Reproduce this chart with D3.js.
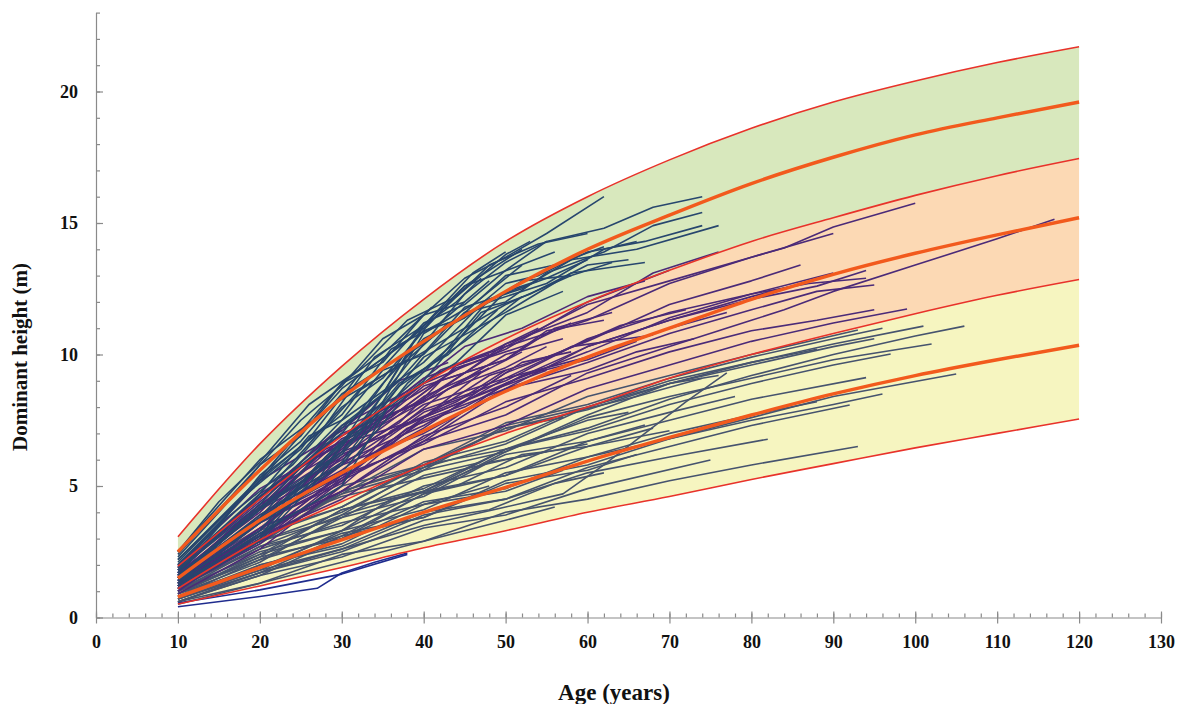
<!DOCTYPE html>
<html>
<head>
<meta charset="utf-8">
<script src="https://cdn.jsdelivr.net/npm/d3@7"></script>
<style>
  body { margin: 0; background: #fff; }
  svg { display: block; }
</style>
</head>
<body>
<script>
// chart size
var width = 1177;
var height = 704;

// ages where the site curves were read
var curveAges = [10, 20, 30, 40, 50, 60, 70, 80, 90, 100, 110, 120];

// class limits (thin red) and class centres (thick orange), top to bottom
var topLimit    = [3.07, 6.6, 9.55, 12.1, 14.3, 16.0, 17.4, 18.6, 19.6, 20.4, 21.1, 21.7];
var centreHigh  = [2.5, 5.6, 8.35, 10.5, 12.4, 14.0, 15.3, 16.5, 17.5, 18.35, 19.0, 19.6];
var limitHigh   = [1.95, 4.5, 6.9, 8.9, 10.6, 12.0, 13.2, 14.3, 15.2, 16.05, 16.8, 17.45];
var centreMid   = [1.5, 3.7, 5.5, 7.1, 8.6, 9.9, 11.0, 12.1, 13.05, 13.85, 14.55, 15.2];
var limitLow    = [1.1, 2.95, 4.4, 5.8, 7.0, 8.0, 9.1, 10.0, 10.8, 11.55, 12.25, 12.85];
var centreLow   = [0.78, 1.9, 2.95, 4.0, 4.95, 5.95, 6.85, 7.7, 8.5, 9.2, 9.8, 10.35];
var bottomLimit = [0.51, 1.2, 1.9, 2.65, 3.3, 4.0, 4.6, 5.25, 5.85, 6.45, 7.0, 7.55];

// observed stands, flat lists of age, height
var highStands = [
  [10,2.3, 15,4.0, 20,5.8, 25,7.5, 30,8.8, 35,10.6, 40,11.5, 45,12.9, 50,13.7, 55,14.6, 62,16.0],
  [10,2.0, 15,3.5, 20,5.4, 25,6.7, 30,8.5, 35,9.5, 40,11.2, 45,11.9, 50,13.2, 55,14.3, 62,14.8, 68,15.6, 74,16.0],
  [10,1.9, 20,4.7, 26,6.9, 30,7.5, 35,9.4, 40,10.0, 45,11.6, 50,12.0, 55,13.1, 62,13.9, 68,14.9, 74,15.4],
  [10,1.7, 20,4.6, 30,7.0, 35,8.9, 40,10.6, 45,11.4, 50,12.7, 54,13.0, 60,13.9, 67,14.3, 74,14.9],
  [10,1.6, 20,3.8, 30,7.2, 37,9.0, 45,11.8, 52,12.5, 58,13.6, 66,14.0, 76,14.9],
  [10,1.5, 20,4.1, 30,6.2, 40,9.9, 50,11.6, 58,13.1, 67,13.5],
  [10,2.2, 20,5.2, 30,8.7, 40,11.0, 48,13.4, 54,14.2, 60,14.6],
  [10,1.4, 20,3.8, 30,5.8, 38,8.9, 44,10.5, 50,12.4, 54,12.8],
  [10,2.5, 15,4.4, 20,5.9, 26,8.1, 32,9.4, 38,11.3, 44,12.2, 50,13.8, 53,14.3],
  [10,1.3, 20,3.1, 28,6.1, 35,8.2, 40,10.8, 46,11.9, 52,13.4],
  [10,2.1, 20,5.3, 30,7.7, 36,10.2, 42,11.2, 48,12.8],
  [10,1.6, 20,4.1, 30,7.3, 35,8.5, 40,11.1, 44,12.0, 47,12.9],
  [10,1.8, 18,4.6, 25,6.4, 32,9.2, 38,10.5, 45,12.6, 51,13.3, 56,13.9],
  [10,1.2, 20,3.2, 30,5.0, 36,8.2, 42,9.9, 48,12.1, 55,12.9, 60,13.6],
  [10,2.4, 20,5.8, 25,6.9, 30,8.9, 35,9.7, 40,11.5, 45,12.0],
  [10,1.9, 20,4.5, 30,8.0, 35,9.1, 40,10.9, 45,11.4, 52,12.8, 58,13.0, 63,13.5],
  [10,1.5, 20,3.6, 30,6.6, 40,9.0, 47,11.6, 53,12.3, 60,13.4, 65,13.6],
  [10,1.7, 16,3.8, 24,5.8, 32,8.6, 38,9.8, 43,11.2],
  [10,2.0, 20,5.2, 28,7.3, 34,9.9, 40,11.1, 46,13.1, 50,13.9],
  [10,1.4, 20,3.3, 27,5.8, 33,7.5, 38,10.0, 44,11.3, 50,13.0, 56,13.4, 62,14.1],
  [10,1.6, 20,4.2, 30,6.3, 37,8.9, 43,10.0, 49,11.7],
  [10,2.2, 20,5.3, 30,8.9, 36,10.3, 41,11.8],
  [10,1.3, 20,3.6, 30,5.5, 38,8.5, 44,9.7, 50,11.5, 57,12.4],
  [10,1.8, 20,4.3, 30,7.5, 40,9.7, 47,11.9, 55,12.7, 62,14.0, 66,14.3],
  [10,1.5, 20,3.9, 30,5.9, 37,8.8, 45,10.5, 52,12.2],
  [10,1.2, 20,3.0, 30,6.5, 40,10.4, 45,12.3, 50,13.5, 55,14.3],
  [10,2.5, 20,6.0, 30,8.3, 40,10.1, 50,11.9, 58,13.0],
  [10,1.1, 20,2.9, 27,5.2, 33,8.0, 39,10.6, 45,12.6, 52,14.0]
];

var midStands = [
  [10,1.2, 20,3.4, 30,4.8, 40,6.7, 50,7.7, 60,9.3, 70,10.3, 80,11.3, 84,11.7, 90,12.4, 100,13.4, 110,14.4, 117,15.14],
  [10,1.6, 20,4.1, 30,6.8, 40,8.3, 50,10.3, 60,11.3, 70,12.7, 80,13.7, 84,14.05, 90,14.85, 100,15.75],
  [10,1.7, 20,4.7, 30,6.7, 40,9.1, 50,10.3, 60,11.9, 70,12.8, 80,13.7, 90,14.6],
  [10,1.5, 20,3.8, 30,6.5, 40,8.2, 50,10.4, 60,11.6, 68,13.1, 76,13.9],
  [10,1.3, 20,3.7, 30,5.3, 40,7.5, 50,8.7, 60,10.3, 70,11.3, 80,12.1, 88,12.6, 94,13.19],
  [10,1.1, 20,2.9, 30,5.3, 40,6.7, 50,8.7, 60,9.7, 70,10.8, 80,11.7, 88,12.4, 95,12.64],
  [10,1.5, 20,4.1, 30,5.8, 40,7.9, 50,9.0, 60,10.6, 70,11.6, 80,12.3, 87,12.7, 94,12.9],
  [10,1.2, 20,3.1, 30,5.4, 40,6.6, 50,8.2, 60,9.1, 70,10.1, 80,10.9, 88,11.3, 95,11.7],
  [10,1.0, 20,3.1, 30,4.5, 40,6.4, 50,7.3, 60,8.7, 70,9.6, 80,10.5, 90,11.2, 99,11.73],
  [10,1.3, 20,3.4, 30,5.8, 40,7.0, 50,8.7, 60,9.4, 66,10.1, 73,10.6],
  [10,1.6, 20,4.3, 30,6.0, 40,8.1, 50,9.1, 58,10.3, 68,10.74],
  [10,1.8, 20,4.4, 30,7.0, 40,8.2, 48,9.49],
  [10,1.4, 20,4.2, 30,6.1, 40,8.4, 47,9.35],
  [10,1.7, 20,4.0, 27,6.1, 35,7.4, 42,9.0, 50,9.8, 56,11.0, 63,11.6],
  [10,1.2, 20,3.6, 30,5.2, 38,7.2, 45,8.0, 52,9.2, 60,9.8, 66,10.5],
  [10,1.9, 20,4.6, 30,7.2, 38,8.3, 45,9.6],
  [10,1.5, 18,3.8, 26,5.3, 34,7.5, 42,8.5, 50,10.0, 57,10.6],
  [10,1.1, 20,3.0, 30,5.5, 40,7.2, 50,9.3, 60,10.5, 70,11.9, 80,12.8, 86,13.4],
  [10,1.6, 20,4.2, 28,6.6, 35,7.7, 42,9.4, 48,10.1, 54,11.0],
  [10,1.3, 20,3.9, 30,5.6, 40,7.8, 46,8.5, 52,9.7, 58,10.1],
  [10,1.8, 20,4.5, 30,7.3, 38,8.6, 45,10.3, 52,11.0, 60,12.2, 67,12.8],
  [10,1.0, 20,3.2, 30,4.8, 40,6.9, 50,8.0, 58,9.2],
  [10,1.4, 20,3.7, 30,6.3, 36,7.0, 43,8.7, 50,9.5, 55,10.3],
  [10,1.7, 20,4.6, 30,6.4, 40,8.9, 50,10.2, 60,12.0, 70,13.2],
  [10,1.2, 20,3.3, 30,5.9, 40,7.3, 50,9.1, 60,9.9, 70,11.0, 77,11.6],
  [10,1.5, 20,4.3, 30,6.3, 40,8.8, 50,9.8, 55,10.9, 62,11.3],
  [10,1.3, 20,3.6, 30,5.1, 36,7.1, 44,8.2, 50,9.4],
  [10,1.6, 20,3.7, 30,6.2, 40,7.6, 48,9.2, 56,10.0, 64,11.1, 72,11.7],
  [10,1.9, 20,5.2, 30,7.1, 37,9.0, 43,9.7],
  [10,1.1, 20,2.8, 30,5.2, 40,6.8, 50,8.9, 60,10.1, 70,11.4, 80,12.3, 90,13.1],
  [10,1.4, 20,3.8, 30,5.4, 40,7.6, 50,8.9, 60,10.3, 70,11.3, 80,12.2, 85,12.6],
  [10,1.7, 20,4.1, 28,6.4, 36,7.6, 44,9.5, 52,10.3, 58,11.2],
  [10,2.0, 20,4.9, 30,6.6, 40,7.6, 48,8.6, 55,9.4],
  [10,0.9, 20,2.6, 30,5.0, 40,7.6, 47,9.3, 52,10.1],
  [10,1.4, 20,3.3, 30,6.1, 37,7.4, 44,9.6, 48,10.0]
];

var lowStands = [
  [10,1.3, 20,3.3, 30,4.7, 40,6.4, 50,7.1, 60,8.4, 70,9.2, 80,10.0, 93,10.93],
  [10,1.2, 20,2.8, 30,4.8, 40,5.8, 50,7.4, 60,8.1, 70,9.1, 80,9.9, 90,10.6, 96,11.0],
  [10,1.0, 20,2.7, 30,3.9, 40,5.7, 50,6.6, 60,8.0, 70,8.9, 80,9.7, 90,10.4, 101,11.08],
  [10,0.9, 20,2.1, 30,3.9, 40,4.8, 50,6.4, 60,7.2, 70,8.3, 80,9.2, 90,10.0, 100,10.7, 106,11.08],
  [10,1.1, 20,2.9, 30,4.0, 40,5.6, 50,6.3, 60,7.6, 70,8.4, 80,9.1, 90,9.8, 102,10.4],
  [10,1.0, 20,2.3, 30,4.1, 40,4.9, 50,6.4, 60,7.1, 70,8.1, 80,8.9, 90,9.6, 97,10.02],
  [10,0.8, 20,2.2, 30,3.1, 40,4.7, 50,5.4, 60,6.7, 70,7.5, 80,8.3, 94,9.12],
  [10,0.7, 20,1.7, 30,3.1, 40,3.8, 50,5.2, 60,5.8, 70,6.8, 80,7.6, 90,8.4, 105,9.26],
  [10,0.9, 20,2.3, 30,3.0, 40,4.4, 50,4.9, 60,6.1, 70,6.8, 80,7.5, 90,8.1, 96,8.5],
  [10,0.7, 20,1.8, 30,2.6, 40,3.9, 50,4.5, 60,5.7, 70,6.5, 80,7.3, 92,8.08],
  [10,0.6, 20,1.3, 30,2.4, 40,2.9, 50,4.0, 60,4.5, 70,5.2, 80,5.8, 93,6.5],
  [10,0.8, 20,2.0, 30,2.7, 40,4.0, 50,4.5, 60,5.5, 70,6.1, 82,6.78],
  [10,0.6, 20,1.6, 30,2.3, 40,3.4, 50,3.9, 60,4.9, 75,5.99],
  [10,1.1, 20,2.4, 30,4.1, 40,4.8, 50,6.2, 60,6.7, 67,7.32],
  [10,0.7, 20,1.7, 30,2.6, 40,3.5, 50,4.2, 57,4.7, 62,5.8, 67,7.0, 72,8.2, 77,9.3],
  [10,1.3, 20,3.2, 30,4.2, 40,5.8, 50,6.4, 60,7.5, 65,7.8],
  [10,1.4, 20,3.1, 30,5.0, 40,5.8, 50,7.2, 57,7.6],
  [10,0.9, 20,2.4, 30,3.3, 40,4.8, 50,5.4, 60,6.5, 70,7.1],
  [10,1.0, 20,2.2, 30,3.8, 40,4.6, 48,5.9, 55,6.3],
  [10,0.6, 20,1.7, 30,2.5, 40,3.7, 48,4.1, 56,5.1, 62,5.5],
  [10,1.2, 20,3.1, 30,4.2, 40,5.9, 50,6.7, 58,7.8, 66,8.4, 74,9.1],
  [10,0.8, 20,1.8, 30,3.3, 40,4.1, 50,5.5, 60,6.1, 70,7.0, 80,7.7, 88,8.2],
  [10,1.1, 20,2.7, 30,3.5, 40,5.0, 50,5.7, 60,7.0, 70,7.8, 78,8.4],
  [10,0.7, 20,2.0, 30,2.8, 40,4.3, 50,4.8, 57,5.6],
  [10,1.3, 20,2.9, 30,4.7, 40,5.6, 50,7.3, 60,8.0, 70,9.0, 80,9.7, 88,10.2],
  [10,1.0, 20,2.5, 30,3.3, 36,4.5, 44,5.0, 52,6.2, 60,6.5, 68,7.2],
  [10,0.9, 20,1.9, 30,3.2, 40,3.8, 50,5.1, 60,5.6, 66,6.2],
  [10,1.2, 20,2.9, 30,3.8, 40,5.4, 47,5.9],
  [10,0.5, 20,1.3, 30,2.1, 40,2.9, 50,3.7, 56,4.2],
  [10,1.4, 20,2.9, 30,4.8, 40,5.7, 50,7.2, 60,7.9, 70,8.9, 80,9.6, 90,10.3, 95,10.6],
  [10,1.5, 20,3.4, 30,4.6, 40,5.3, 50,6.0, 60,6.6],
  [10,0.6, 20,1.6, 30,3.0, 40,4.7, 50,6.3, 60,7.7, 70,8.9, 76,9.2],
  [10,1.2, 20,2.6, 30,3.6, 40,4.3, 48,5.0]
];

// the two slowest stands, drawn in bright navy
var slowStands = [
  [10,0.41, 20,0.8, 27,1.11, 30,1.69, 34,2.1, 38,2.45],
  [10,0.55, 20,1.05, 30,1.65, 38,2.4]
];

// tick labels
var xTicks = d3.range(0, 131, 10);
var yTicks = [0, 5, 10, 15, 20];

var svg = d3.select('body').append('svg')
  .attr('width', width)
  .attr('height', height);

var x = d3.scaleLinear().domain([0, 130]).range([96, 1161]);
var y = d3.scaleLinear().domain([0, 23]).range([617.5, 12.6]);

// turn a flat list into [age, height] pairs
function pairs(list) {
  var out = [];
  for (var i = 0; i < list.length; i += 2) out.push([list[i], list[i + 1]]);
  return out;
}

function zipCurve(vals) {
  return curveAges.map(function (a, i) { return [a, vals[i]]; });
}

// bands
var band = d3.area()
  .x(function (d) { return x(d.a); })
  .y0(function (d) { return y(d.lo); })
  .y1(function (d) { return y(d.hi); })
  .curve(d3.curveMonotoneX);

function bandData(hi, lo) {
  return curveAges.map(function (a, i) { return {a: a, hi: hi[i], lo: lo[i]}; });
}

svg.append('path').attr('d', band(bandData(topLimit, limitHigh))).attr('fill', '#d8e8bd');
svg.append('path').attr('d', band(bandData(limitHigh, limitLow))).attr('fill', '#fcd9b4');
svg.append('path').attr('d', band(bandData(limitLow, bottomLimit))).attr('fill', '#f6f5c0');

// stand trajectories
var standLine = d3.line()
  .x(function (d) { return x(d[0]); })
  .y(function (d) { return y(d[1]); });

function drawStands(list, colour) {
  svg.append('g').selectAll('path')
    .data(list)
    .enter().append('path')
    .attr('d', function (d) { return standLine(pairs(d)); })
    .attr('fill', 'none')
    .attr('stroke', colour)
    .attr('stroke-width', 1.6)
    .attr('stroke-linejoin', 'round');
}

drawStands(lowStands, '#46536e');
drawStands(midStands, '#4b2a78');
drawStands(highStands, '#27466e');
drawStands(slowStands, '#1f2c8e');

// site curves
var siteLine = d3.line()
  .x(function (d) { return x(d[0]); })
  .y(function (d) { return y(d[1]); })
  .curve(d3.curveMonotoneX);

[topLimit, limitHigh, limitLow, bottomLimit].forEach(function (c) {
  svg.append('path').attr('d', siteLine(zipCurve(c)))
    .attr('fill', 'none').attr('stroke', '#e8322a').attr('stroke-width', 1.6);
});
[centreHigh, centreMid, centreLow].forEach(function (c) {
  svg.append('path').attr('d', siteLine(zipCurve(c)))
    .attr('fill', 'none').attr('stroke', '#f25a1d').attr('stroke-width', 3.4);
});

// axes
var axisColour = '#8a8a8a';

var xMinor = svg.append('g')
  .attr('transform', 'translate(0,' + y(0) + ')')
  .call(d3.axisBottom(x).tickValues(d3.range(0, 131, 2)).tickSize(-4).tickFormat(''));
xMinor.select('.domain').remove();

var xAxis = svg.append('g')
  .attr('transform', 'translate(0,' + y(0) + ')')
  .call(d3.axisBottom(x).tickValues(xTicks).tickSize(6).tickPadding(12).tickSizeOuter(0));
xAxis.selectAll('.tick line').attr('y1', -6);

var yMinor = svg.append('g')
  .attr('transform', 'translate(' + x(0) + ',0)')
  .call(d3.axisLeft(y).tickValues(d3.range(0, 24, 1)).tickSize(-4).tickFormat(''));
yMinor.select('.domain').remove();

var yAxis = svg.append('g')
  .attr('transform', 'translate(' + x(0) + ',0)')
  .call(d3.axisLeft(y).tickValues(yTicks).tickSize(6).tickPadding(12).tickSizeOuter(0));
yAxis.selectAll('.tick line').attr('x2', 7);

svg.selectAll('.domain').attr('stroke', axisColour).attr('stroke-width', 1.2);
svg.selectAll('.tick line').attr('stroke', axisColour).attr('stroke-width', 1.2);
svg.selectAll('.tick text')
  .attr('fill', '#111')
  .style('font-family', '"Liberation Serif", "Times New Roman", serif')
  .style('font-weight', 'bold')
  .style('font-size', '18px');

// axis titles
svg.append('text')
  .attr('x', 614)
  .attr('y', 700)
  .attr('text-anchor', 'middle')
  .style('font-family', '"Liberation Serif", "Times New Roman", serif')
  .style('font-weight', 'bold')
  .style('font-size', '23px')
  .attr('fill', '#111')
  .text('Age (years)');

svg.append('text')
  .attr('transform', 'translate(27,357) rotate(-90)')
  .attr('text-anchor', 'middle')
  .style('font-family', '"Liberation Serif", "Times New Roman", serif')
  .style('font-weight', 'bold')
  .style('font-size', '21px')
  .attr('fill', '#111')
  .text('Dominant height (m)');
</script>
</body>
</html>
